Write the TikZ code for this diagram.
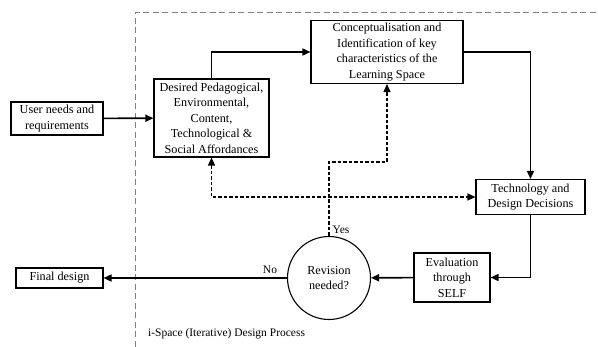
\documentclass[tikz,border=0pt]{standalone}
\usepackage{fontspec}
\setmainfont{Liberation Serif}
\usetikzlibrary{arrows.meta,positioning}

\tikzset{
  stage/.style={draw, line width=1.1pt, fill=white, align=center, inner sep=0pt,
    font=\fontsize{12.2}{15.5}\selectfont},
  flow/.style={line width=1.6pt, -{Triangle[length=8pt,width=7pt]}},
  dflow/.style={line width=1.4pt, dash pattern=on 3.5pt off 2pt, -{Triangle[length=8pt,width=7pt]}},
  lbl/.style={font=\fontsize{11.5}{14}\selectfont, inner sep=0pt}
}

\begin{document}
\begin{tikzpicture}[x=1pt, y=-1pt]

   \useasboundingbox (0,0) rectangle (598,347);

   % frame of the iterative process
   \draw[color=gray, line width=1pt, dash pattern=on 6pt off 3.5pt] (135,347) -- (135,13) -- (598,13);

   \node[stage, minimum width=92pt, minimum height=33pt] (user) at (57,118.5) {User needs and\\requirements};
   \node[stage, minimum width=115pt, minimum height=78pt] (desired) at (211.5,118) {Desired Pedagogical,\\Environmental,\\Content,\\Technological \&\\Social Affordances};
   \node[stage, minimum width=152pt, minimum height=63pt] (concept) at (387,52) {Conceptualisation and\\Identification of key\\characteristics of the\\Learning Space};
   \node[stage, minimum width=109pt, minimum height=35pt] (tech) at (530.5,197) {Technology and\\Design Decisions};
   \node[stage, minimum width=76pt, minimum height=49pt] (eval) at (452,277.5) {Evaluation\\through\\SELF};
   \node[stage, circle, minimum size=83pt] (rev) at (329,278) {Revision\\needed?};
   \node[stage, minimum width=87pt, minimum height=20pt] (final) at (59.5,278) {Final design};

   \draw[flow] (user) -- (desired);
   \draw[flow] (desired.north) |- (concept.west);
   \draw[flow] (concept.east) -| (tech.north);
   \draw[flow] (tech.south) |- (eval.east);
   \draw[flow] (eval) -- (rev);
   \draw[flow] (rev) -- (final);

   % revision loop
   \coordinate (yesbend) at (329,162);
   \draw[dflow] (rev.north) -- (yesbend) -| (concept.south);
   \draw[dflow, {Triangle[length=8pt,width=7pt]}-{Triangle[length=8pt,width=7pt]}] (desired.south) |- (tech.west);

   \node[lbl] (yes) at (341,230) {Yes};
   \node[lbl] (no) at (270,270) {No};
   \node[lbl, anchor=west] (title) at (148,334) {i-Space (Iterative) Design Process};

\end{tikzpicture}
\end{document}
